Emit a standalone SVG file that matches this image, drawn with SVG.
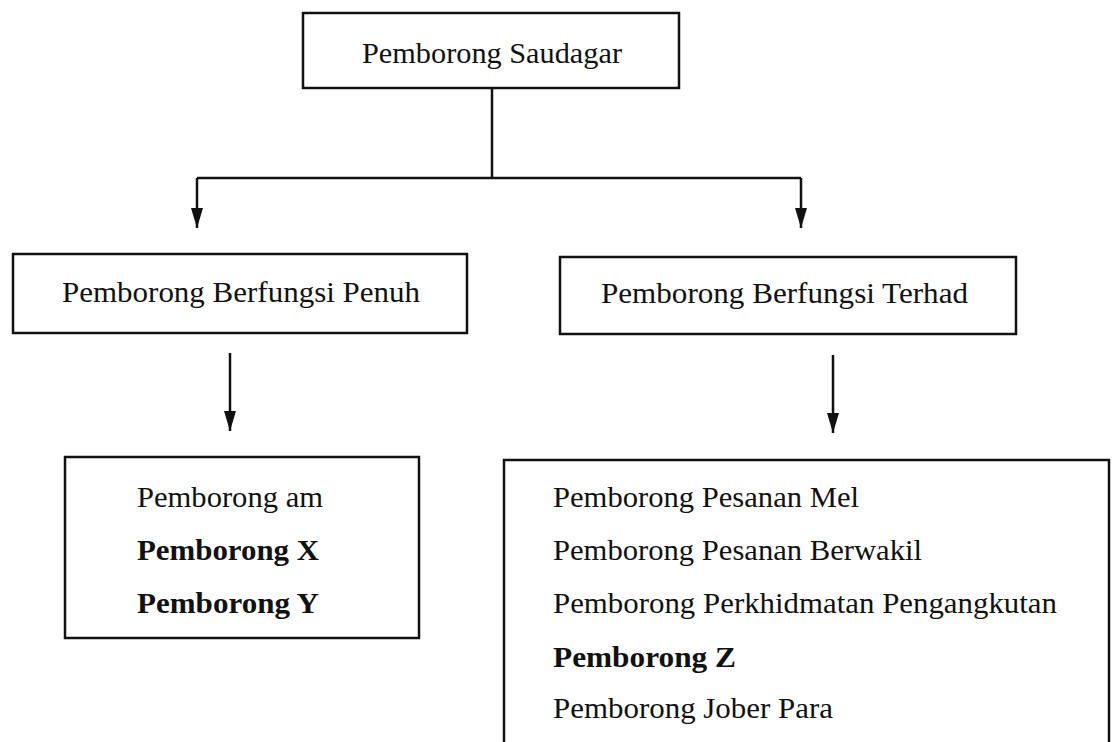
<svg xmlns="http://www.w3.org/2000/svg" width="1112" height="742" viewBox="0 0 1112 742">
<style>
.box{fill:#fff;stroke:#111;stroke-width:2.5}
.t{font-family:"Liberation Serif","Times New Roman",serif;font-size:29px;fill:#111}
.b{font-weight:bold}
.c{fill:none;stroke:#111;stroke-width:2.5}
</style>
<defs>
<marker id="ah" viewBox="0 0 20 12" refX="20" refY="6" markerWidth="20" markerHeight="12" markerUnits="userSpaceOnUse" orient="auto">
<path d="M0,0 L20,6 L0,12 Z" fill="#111"/>
</marker>
</defs>
<rect width="1112" height="742" fill="#fff"/>
<g id="connectors">
<path class="c" d="M492,88 V178"/>
<path class="c" d="M197,178 H801"/>
<line class="c" x1="197" y1="178" x2="197" y2="228" marker-end="url(#ah)"/>
<line class="c" x1="801" y1="178" x2="801" y2="228" marker-end="url(#ah)"/>
<line class="c" x1="230" y1="353" x2="230" y2="431" marker-end="url(#ah)"/>
<line class="c" x1="833" y1="355" x2="833" y2="433" marker-end="url(#ah)"/>
</g>
<g id="root">
<rect class="box" x="303" y="13" width="376" height="75"/>
<text class="t" x="362" y="63" textLength="260" lengthAdjust="spacingAndGlyphs">Pemborong Saudagar</text>
</g>
<g id="penuh">
<rect class="box" x="13" y="254" width="454" height="79"/>
<text class="t" x="62" y="302" textLength="358" lengthAdjust="spacingAndGlyphs">Pemborong Berfungsi Penuh</text>
</g>
<g id="terhad">
<rect class="box" x="560" y="257" width="456" height="77"/>
<text class="t" x="601" y="303" textLength="367" lengthAdjust="spacingAndGlyphs">Pemborong Berfungsi Terhad</text>
</g>
<g id="penuh-list">
<rect class="box" x="65" y="457" width="354" height="181"/>
<text class="t" x="137" y="507" textLength="186" lengthAdjust="spacingAndGlyphs">Pemborong am</text>
<text class="t b" x="137" y="560" textLength="182" lengthAdjust="spacingAndGlyphs">Pemborong X</text>
<text class="t b" x="137" y="613" textLength="182" lengthAdjust="spacingAndGlyphs">Pemborong Y</text>
</g>
<g id="terhad-list">
<rect class="box" x="504" y="460" width="605" height="300"/>
<text class="t" x="553" y="507" textLength="306" lengthAdjust="spacingAndGlyphs">Pemborong Pesanan Mel</text>
<text class="t" x="553" y="560" textLength="369" lengthAdjust="spacingAndGlyphs">Pemborong Pesanan Berwakil</text>
<text class="t" x="553" y="613" textLength="504" lengthAdjust="spacingAndGlyphs">Pemborong Perkhidmatan Pengangkutan</text>
<text class="t b" x="553" y="667" textLength="183" lengthAdjust="spacingAndGlyphs">Pemborong Z</text>
<text class="t" x="553" y="718" textLength="280" lengthAdjust="spacingAndGlyphs">Pemborong Jober Para</text>
</g>
</svg>
